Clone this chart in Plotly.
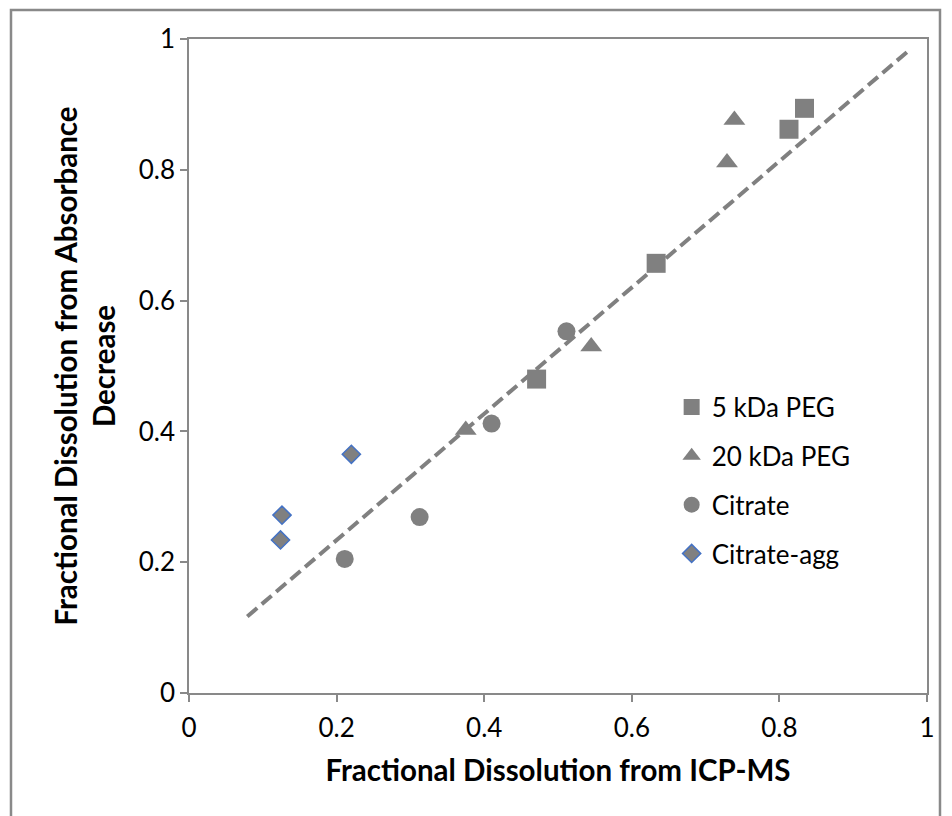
import plotly.graph_objects as go

# ---- data ----
peg5_x = [0.471, 0.633, 0.813, 0.834]
peg5_y = [0.480, 0.657, 0.862, 0.894]
peg20_x = [0.375, 0.545, 0.729, 0.739]
peg20_y = [0.402, 0.530, 0.811, 0.876]
cit_x = [0.211, 0.3125, 0.410, 0.5115]
cit_y = [0.205, 0.269, 0.412, 0.553]
agg_x = [0.124, 0.126, 0.220]
agg_y = [0.234, 0.272, 0.365]
fit_x = [0.079, 0.977]
fit_y = [0.117, 0.984]
tick_vals = [0, 0.2, 0.4, 0.6, 0.8, 1]
tick_text = ["0", "0.2", "0.4", "0.6", "0.8", "1"]

GRAY = "#808080"
AXIS = "#898989"
FONT = "Lato"

fig = go.Figure()
fig.add_trace(go.Scatter(x=fit_x, y=fit_y, mode="lines", showlegend=False,
                         line=dict(color=GRAY, width=4, dash="13px,6px")))
fig.add_trace(go.Scatter(x=peg5_x, y=peg5_y, mode="markers", name="5 kDa PEG",
                         legendgroup="a",
                         marker=dict(symbol="square", size=19, color=GRAY, line=dict(width=0))))
fig.add_trace(go.Scatter(x=peg20_x, y=peg20_y, mode="markers", name="20 kDa PEG",
                         legendgroup="b",
                         marker=dict(symbol="triangle-up", size=19, color=GRAY, line=dict(width=0))))
fig.add_trace(go.Scatter(x=cit_x, y=cit_y, mode="markers", name="Citrate",
                         legendgroup="c",
                         marker=dict(symbol="circle", size=18, color=GRAY, line=dict(width=0))))
fig.add_trace(go.Scatter(x=agg_x, y=agg_y, mode="markers", name="Citrate-agg",
                         legendgroup="d",
                         marker=dict(symbol="diamond", size=14, color=GRAY,
                                     line=dict(width=1.5, color="#4472C4"))))

axis_common = dict(
    range=[0, 1], tickvals=tick_vals, ticktext=tick_text,
    showgrid=False, zeroline=False,
    showline=True, linecolor=AXIS, linewidth=1.5, mirror=True,
    ticks="outside", ticklen=7, tickwidth=1.5, tickcolor=AXIS,
    tickfont=dict(family=FONT, size=26, color="#000000"),
)

fig.update_xaxes(**axis_common, ticklabelstandoff=4,
                 title=dict(text="<b>Fractional Dissolution from ICP-MS</b>",
                            font=dict(family=FONT, size=29.5, color="#000000"), standoff=18))
fig.update_yaxes(**axis_common,
                 title=dict(text="<b>Fractional Dissolution from Absorbance<br>Decrease</b>",
                            font=dict(family=FONT, size=29.5, color="#000000"), standoff=14))

fig.add_shape(type="rect", xref="paper", yref="paper",
              x0=-0.2412, x1=1.0176, y0=-0.25, y1=1.0443,
              line=dict(color=AXIS, width=2.5), fillcolor="rgba(0,0,0,0)", layer="below")

fig.update_layout(
    width=944, height=808,
    margin=dict(l=181, r=25, t=31, b=123),
    paper_bgcolor="white", plot_bgcolor="white",
    font=dict(family=FONT, color="#000000"),
    legend=dict(x=0.654, y=0.473, xanchor="left", yanchor="top",
                bgcolor="rgba(0,0,0,0)", tracegroupgap=12,
                font=dict(family=FONT, size=26, color="#000000")),
)

fig.write_html("out.html")
